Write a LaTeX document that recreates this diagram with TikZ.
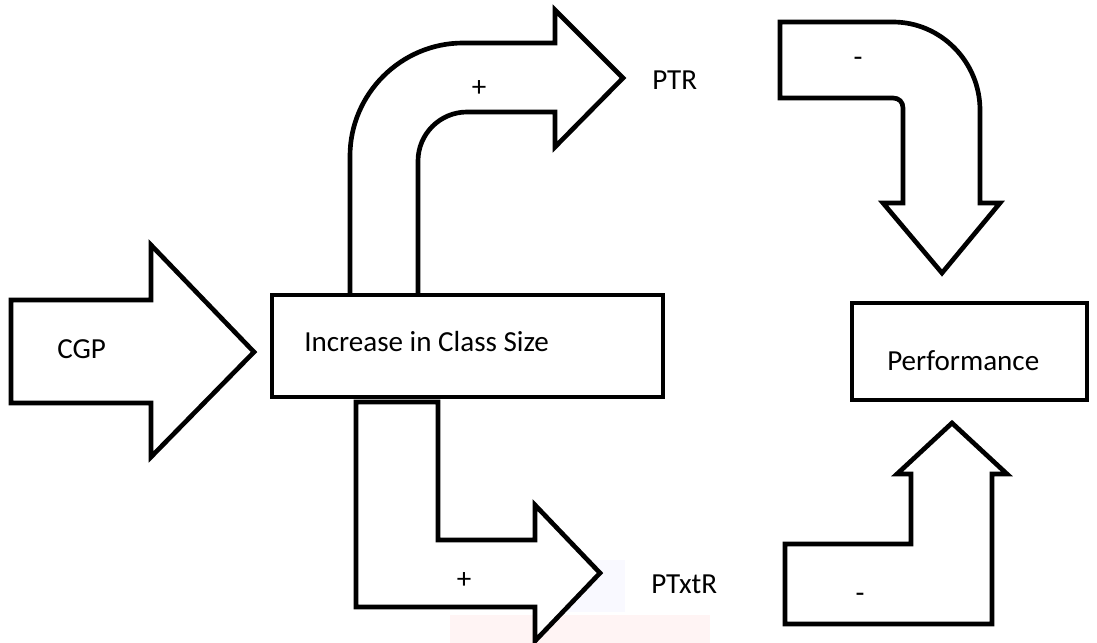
\documentclass[tikz,border=0pt]{standalone}
\usepackage{fontspec}
\setmainfont{Carlito}
\begin{document}
\begin{tikzpicture}[x=0.75pt,y=-0.75pt,
  blockshape/.style={draw=black,line width=3.5pt,fill=white,line join=miter},
  lbl/.style={inner sep=0pt,anchor=west,font=\fontsize{21.8pt}{26pt}\selectfont},
  sign/.style={inner sep=0pt,font=\fontsize{21.8pt}{26pt}\selectfont}]
\useasboundingbox (0,0) rectangle (1097,643);
% faint watermark
\fill[red!6,opacity=0.7] (450,615) rectangle (710,643);
\fill[blue!4,opacity=0.6] (540,560) rectangle (625,612);
% CGP arrow
\draw[blockshape] (11,300) -- (151,300) -- (151,245) -- (254,352) -- (151,457) -- (151,403) -- (11,403) -- cycle;
% up-right bent arrow
\draw[blockshape] (350,297) -- (350,156) .. controls (350,94) and (401,43) .. (463,43) -- (555,43) -- (555,10) -- (623,78) -- (555,147) -- (555,112) -- (467,112) .. controls (440,112) and (418,134) .. (418,161) -- (418,297);
% down-right L arrow
\draw[blockshape] (356,402) -- (438,402) -- (438,540) -- (535,540) -- (535,505) -- (600,573) -- (535,641) -- (535,607) -- (356,607) -- cycle;
% top right curved down arrow
\draw[blockshape] (780,98) -- (780,22) -- (893,22) .. controls (941,22) and (980,62) .. (980,110) -- (980,203) -- (1000,203) -- (942,273) -- (883,203) -- (903,203) -- (903,108) .. controls (903,102) and (899,98) .. (893,98) -- cycle;
% bottom right up arrow
\draw[blockshape] (952,423) -- (1007,474) -- (992,474) -- (992,624) -- (785,624) -- (785,544) -- (911,544) -- (911,474) -- (897,474) -- cycle;
% boxes
\draw[blockshape] (272,295) rectangle (663,397);
\draw[blockshape] (852,303) rectangle (1087,400);
% texts
\node[lbl] (cgp) at (57,349) {CGP};
\node[lbl] (ics) at (304,342) {Increase in Class Size};
\node[lbl] (perf) at (887,361) {Performance};
\node[lbl] (ptr) at (652,80) {PTR};
\node[lbl] (ptxtr) at (651,584) {PTxtR};
\node[sign] (p1) at (479,89) {+};
\node[sign] (p2) at (464,581) {+};
\node[sign] (m1) at (858,62) {-};
\node[sign] (m2) at (860,598) {-};
\end{tikzpicture}
\end{document}
